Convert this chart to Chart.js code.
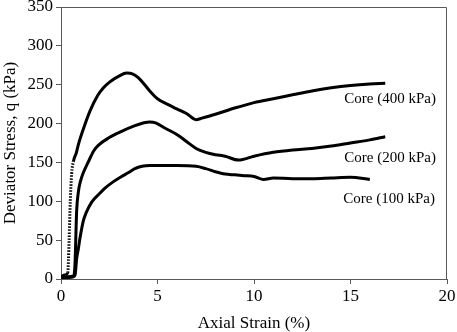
<!DOCTYPE html>
<html>
<head>
<meta charset="utf-8">
<script src="https://cdn.jsdelivr.net/npm/chart.js@4"></script>
<style>
  html, body { margin:0; padding:0; background:#fff; }
  #wrap { width:457px; height:332px; }
</style>
</head>
<body>
<div id="wrap"><canvas id="chart"></canvas></div>
<script>
// Data (axial strain %, deviator stress kPa)
const strain400 = [0, 0.2, 0.35, 0.42, 0.48, 0.55, 0.64, 0.8, 0.9, 1.2, 1.5, 1.9, 2.2, 2.5, 3.0, 3.4, 3.7, 4.0, 4.3, 4.6, 5.0, 5.5, 6.0, 6.5, 7.0, 7.3, 8.0, 9.0, 10.0, 11.0, 12.0, 13.0, 14.0, 15.0, 16.0, 16.8];
const stress400 = [3, 5, 8, 50, 100, 135, 151, 163, 173, 196, 216, 236, 246, 253, 261, 265, 264, 259, 251, 242, 232, 225, 219, 213, 205, 207, 212, 220, 227, 232, 237, 242, 246, 249, 251, 252];

const strain200 = [0, 0.3, 0.65, 0.7, 0.73, 0.81, 0.9, 1.0, 1.16, 1.42, 1.7, 1.93, 2.5, 3.14, 3.8, 4.3, 4.6, 4.9, 5.4, 6.0, 6.5, 7.0, 7.5, 8.0, 8.5, 9.2, 10.0, 11.0, 12.0, 13.0, 14.0, 15.0, 16.0, 16.8];
const stress200 = [2, 3, 4, 9, 22, 87, 112, 125, 137, 151, 165, 172, 182, 190, 197, 201, 202, 201, 194, 186, 177, 168, 163, 160, 158, 153, 158, 163, 166, 168, 171, 175, 179, 183];

const strain100 = [0, 0.4, 0.65, 0.73, 0.81, 0.9, 0.98, 1.16, 1.3, 1.59, 2.0, 2.28, 2.7, 3.14, 3.5, 3.83, 4.2, 4.6, 5.0, 6.0, 7.0, 7.5, 8.0, 8.5, 9.0, 9.5, 10.0, 10.5, 11.0, 12.0, 13.0, 14.0, 15.0, 16.0];
const stress100 = [1, 2, 3, 5, 26, 39, 52, 75, 85, 99, 110, 117, 125, 132, 137, 142, 145, 146, 146, 146, 145, 142, 138, 135, 134, 133, 132, 128, 130, 129, 129, 130, 131, 128];

const seriesLabels = ['Core (400 kPa)', 'Core (200 kPa)', 'Core (100 kPa)'];
const xTicks = [0, 5, 10, 15, 20];
const yTicks = [0, 50, 100, 150, 200, 250, 300, 350];

const pts = (xs, ys) => xs.map((x, i) => ({ x, y: ys[i] }));
const FONT = 'Liberation Serif';
const AXIS = '#595959';

// steep start of the 400 kPa test drawn dotted
const steepDash = c => (c.p0DataIndex >= 2 && c.p0DataIndex < 6 ? [1.5, 1.5] : undefined);

function line(label, data, dashed) {
  return {
    label, data, showLine: true, fill: false,
    borderColor: '#000', borderWidth: 3, pointRadius: 0,
    cubicInterpolationMode: 'monotone',
    segment: dashed ? { borderDash: steepDash } : {}
  };
}

// labels next to curves + top/right frame
const extras = {
  id: 'extras',
  afterDatasetsDraw(chart) {
    const { ctx, chartArea: a, scales: { x, y } } = chart;
    ctx.save();
    ctx.strokeStyle = AXIS; ctx.lineWidth = 1;
    ctx.beginPath();
    ctx.moveTo(a.left, a.top + 0.5); ctx.lineTo(a.right - 0.5, a.top + 0.5); ctx.lineTo(a.right - 0.5, a.bottom);
    ctx.stroke();
    ctx.fillStyle = '#000';
    ctx.font = `15px "${FONT}"`;
    ctx.textAlign = 'center'; ctx.textBaseline = 'middle';
    ctx.fillText(seriesLabels[0], x.getPixelForValue(17.05), y.getPixelForValue(232));
    ctx.fillText(seriesLabels[1], x.getPixelForValue(17.05), y.getPixelForValue(155));
    ctx.fillText(seriesLabels[2], x.getPixelForValue(17.0), y.getPixelForValue(103));
    ctx.restore();
  }
};

new Chart(document.getElementById('chart'), {
  type: 'scatter',
  data: {
    datasets: [
      line(seriesLabels[0], pts(strain400, stress400), true),
      line(seriesLabels[1], pts(strain200, stress200), false),
      line(seriesLabels[2], pts(strain100, stress100), false)
    ]
  },
  options: {
    responsive: true, maintainAspectRatio: false, animation: false,
    layout: { padding: 0 },
    plugins: { legend: { display: false }, tooltip: { enabled: false } },
    scales: {
      x: {
        type: 'linear', min: 0, max: 20,
        afterBuildTicks: s => { s.ticks = xTicks.map(v => ({ value: v })); },
        afterFit: s => { s.height = 53; s.paddingLeft = 0; s.paddingRight = 10; },
        grid: { drawOnChartArea: false, tickLength: 5, color: AXIS },
        border: { color: AXIS, width: 1 },
        ticks: { color: '#000', font: { family: FONT, size: 17 }, padding: 2, maxRotation: 0 },
        title: { display: true, text: 'Axial Strain (%)', color: '#000', font: { family: FONT, size: 17, lineHeight: 1 }, padding: 0 }
      },
      y: {
        type: 'linear', min: 0, max: 350,
        afterBuildTicks: s => { s.ticks = yTicks.map(v => ({ value: v })); },
        afterFit: s => { s.width = 61; s.paddingTop = 7; s.paddingBottom = 0; },
        grid: { drawOnChartArea: false, tickLength: 5, color: AXIS },
        border: { color: AXIS, width: 1 },
        ticks: { color: '#000', font: { family: FONT, size: 17 }, padding: 3 },
        title: { display: true, text: 'Deviator Stress, q (kPa)', color: '#000', font: { family: FONT, size: 17 }, padding: 0 }
      }
    }
  },
  plugins: [extras]
});
</script>
</body>
</html>
